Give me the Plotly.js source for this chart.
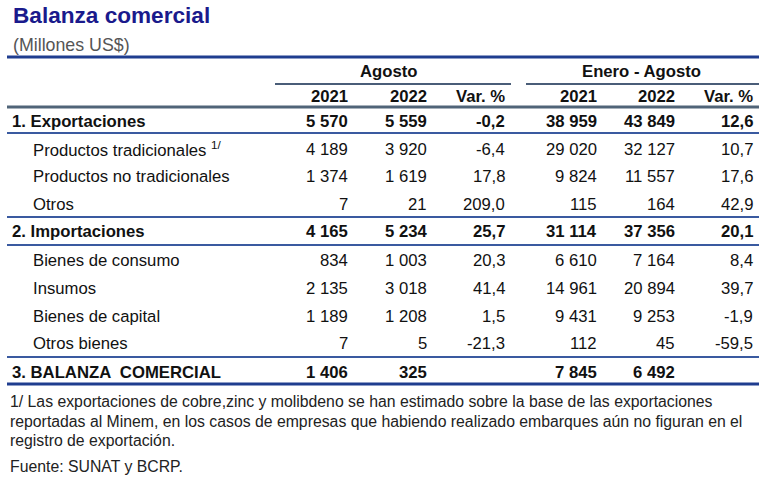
<!DOCTYPE html>
<html>
<head>
<meta charset="utf-8">
<script src="https://cdn.plot.ly/plotly-3.0.1.min.js"></script>
<style>html,body{margin:0;padding:0;background:#fff;}#chart{width:768px;height:482px;}</style>
</head>
<body>
<div id="chart"></div>
<script>
// ---- Data ----
const title = "Balanza comercial";
const subtitle = "(Millones US$)";
const groupHeaders = ["Agosto", "Enero - Agosto"];
const columnHeaders = ["2021", "2022", "Var. %", "2021", "2022", "Var. %"];
const rowLabels = [
  "1. Exportaciones",
  "Productos tradicionales <sup>1/</sup>",
  "Productos no tradicionales",
  "Otros",
  "2. Importaciones",
  "Bienes de consumo",
  "Insumos",
  "Bienes de capital",
  "Otros bienes",
  "3. BALANZA  COMERCIAL"
];
const rowLevel = [0, 1, 1, 1, 0, 1, 1, 1, 1, 0]; // 0 = total (bold), 1 = sub-item
const ago2021 = ["5 570", "4 189", "1 374", "7", "4 165", "834", "2 135", "1 189", "7", "1 406"];
const ago2022 = ["5 559", "3 920", "1 619", "21", "5 234", "1 003", "3 018", "1 208", "5", "325"];
const agoVar = ["-0,2", "-6,4", "17,8", "209,0", "25,7", "20,3", "41,4", "1,5", "-21,3", ""];
const ene2021 = ["38 959", "29 020", "9 824", "115", "31 114", "6 610", "14 961", "9 431", "112", "7 845"];
const ene2022 = ["43 849", "32 127", "11 557", "164", "37 356", "7 164", "20 894", "9 253", "45", "6 492"];
const eneVar = ["12,6", "10,7", "17,6", "42,9", "20,1", "8,4", "39,7", "-1,9", "-59,5", ""];
const footnote = [
  "1/ Las exportaciones de cobre,zinc y molibdeno se han estimado sobre la base de las exportaciones",
  "reportadas al Minem, en los casos de empresas que habiendo realizado embarques aún no figuran en el",
  "registro de exportación."
];
const source = "Fuente: SUNAT y BCRP.";

// ---- Layout geometry (pixel-like coordinate system) ----
const W = 768, H = 482;
const FONT = "Liberation Sans, Arial, sans-serif";
const colRight = [350, 429, 507, 599, 677, 755];
const groupCenter = [388, 641];
const rowY = [121, 149, 176, 204, 231, 260, 288, 316, 343, 372];
const columns = [ago2021, ago2022, agoVar, ene2021, ene2022, eneVar];

const ann = [];
const BS = 16.7;
ann.push({x: 11, y: 15, text: "<b>" + title + "</b>", xanchor: "left", yanchor: "middle",
  font: {family: FONT, size: 22.6, color: "#1a1a8c"}});
ann.push({x: 11, y: 45, text: subtitle, xanchor: "left", yanchor: "middle",
  font: {family: FONT, size: 17.8, color: "#555555"}});
groupHeaders.forEach((g, i) => ann.push({x: groupCenter[i], y: 71, text: "<b>" + g + "</b>",
  xanchor: "center", yanchor: "middle", font: {family: FONT, size: BS, color: "#111"}}));
columnHeaders.forEach((h, i) => ann.push({x: colRight[i], y: 96, text: "<b>" + h + "</b>",
  xanchor: "right", yanchor: "middle", font: {family: FONT, size: BS, color: "#111"}}));
rowLabels.forEach((lab, r) => {
  const bold = rowLevel[r] === 0;
  ann.push({x: bold ? 10 : 31, y: rowY[r], text: bold ? "<b>" + lab + "</b>" : lab,
    xanchor: "left", yanchor: "middle", font: {family: FONT, size: BS, color: "#111"}});
  columns.forEach((col, c) => {
    if (col[r] === "") return;
    ann.push({x: colRight[c], y: rowY[r], text: bold ? "<b>" + col[r] + "</b>" : col[r],
      xanchor: "right", yanchor: "middle", font: {family: FONT, size: BS, color: "#111"}});
  });
});
[401, 421, 440].forEach((y, i) => ann.push({x: 8, y: y, text: footnote[i], xanchor: "left", yanchor: "middle",
  font: {family: FONT, size: 15.8, color: "#222"}}));
ann.push({x: 8, y: 466, text: source, xanchor: "left", yanchor: "middle",
  font: {family: FONT, size: 15.8, color: "#222"}});
ann.forEach(a => { a.xref = "x"; a.yref = "y"; a.showarrow = false; });

function hline(y, x0, x1, color, w) {
  return {type: "line", xref: "x", yref: "y", x0: x0, x1: x1, y0: y, y1: y, line: {color: color, width: w}};
}
const shapes = [
  hline(57, 7, 759, "#1f3d8f", 3),
  hline(84, 275, 511, "#4a5d78", 2),
  hline(84, 526, 759, "#4a5d78", 2),
  hline(107, 7, 759, "#506478", 3),
  hline(133, 7, 759, "#3a5aa0", 2),
  hline(217, 7, 759, "#3a5aa0", 2),
  hline(245, 7, 759, "#3a5aa0", 2),
  hline(357, 7, 759, "#3a5aa0", 2),
  hline(384, 7, 759, "#1f3d8f", 3)
];

const layout = {
  width: W, height: H,
  margin: {l: 0, r: 0, t: 0, b: 0},
  paper_bgcolor: "#ffffff", plot_bgcolor: "#ffffff",
  xaxis: {range: [0, W], visible: false, fixedrange: true},
  yaxis: {range: [H, 0], visible: false, fixedrange: true},
  showlegend: false,
  annotations: ann,
  shapes: shapes
};
Plotly.newPlot("chart", [], layout, {displayModeBar: false, staticPlot: true});
</script>
</body>
</html>
